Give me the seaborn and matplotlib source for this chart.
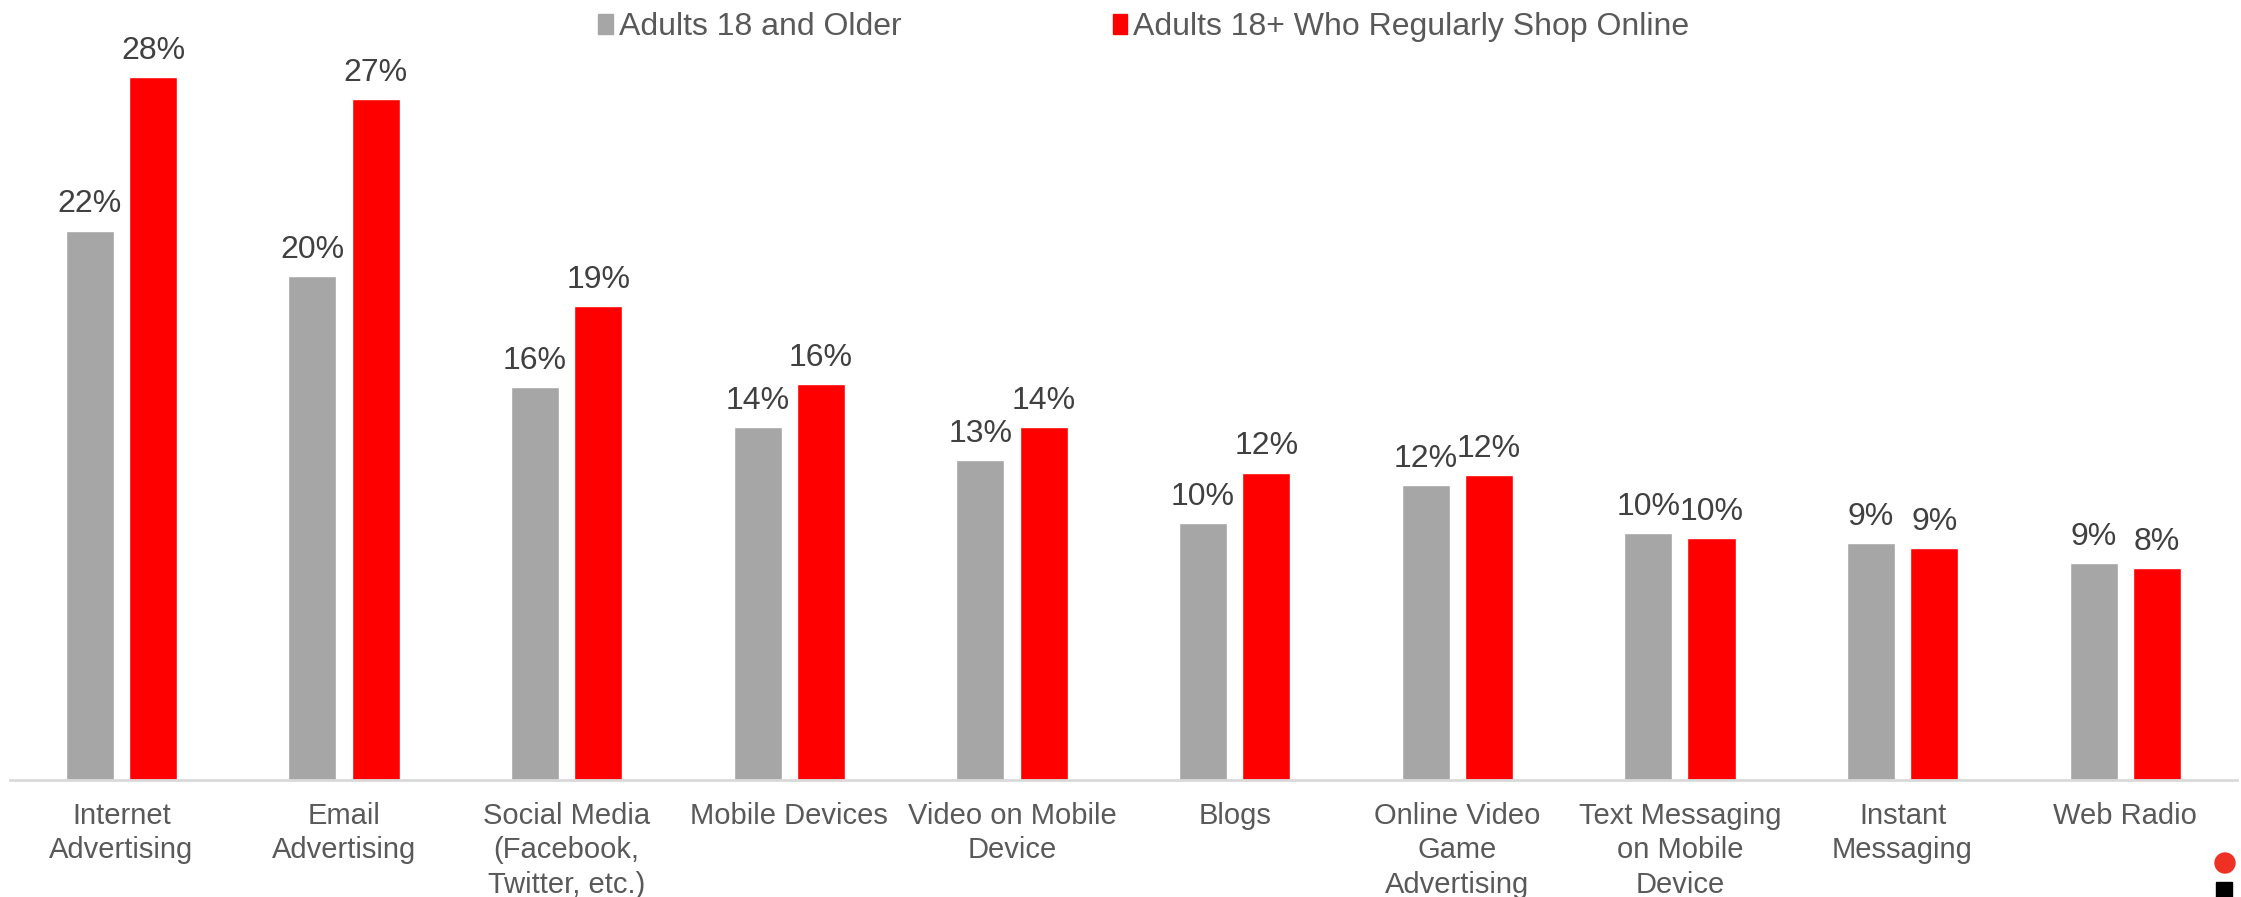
import matplotlib
matplotlib.use("Agg")
import matplotlib.pyplot as plt
import matplotlib.patches as mpatches
import seaborn as sns
import pandas as pd

# Share of respondents influenced by each ad channel
categories = [
    "Internet\nAdvertising",
    "Email\nAdvertising",
    "Social Media\n(Facebook,\nTwitter, etc.)",
    "Mobile Devices",
    "Video on Mobile\nDevice",
    "Blogs",
    "Online Video\nGame\nAdvertising",
    "Text Messaging\non Mobile\nDevice",
    "Instant\nMessaging",
    "Web Radio",
]
series_names = ["Adults 18 and Older", "Adults 18+ Who Regularly Shop Online"]
adults_all = [21.8, 20.0, 15.6, 14.0, 12.7, 10.2, 11.7, 9.8, 9.4, 8.6]
adults_shoppers = [27.9, 27.0, 18.8, 15.7, 14.0, 12.2, 12.1, 9.6, 9.2, 8.4]

GRAY = "#A6A6A6"
RED = "#FF0000"

df = pd.DataFrame({
    "category": categories * 2,
    "series": [series_names[0]] * len(categories) + [series_names[1]] * len(categories),
    "value": adults_all + adults_shoppers,
})

sns.set_theme(style="white")
plt.rcParams["font.family"] = ["Liberation Sans", "DejaVu Sans"]

W, H = 2241, 897
fig = plt.figure(figsize=(W / 100, H / 100), dpi=100)
ax = fig.add_axes([0.0045, 0.1304, 0.9935, 0.843])

sns.barplot(
    data=df, x="category", y="value", hue="series",
    order=categories, hue_order=series_names,
    palette=[GRAY, RED], width=0.568, gap=0.24,
    saturation=1, legend=False, ax=ax,
)

for cont in ax.containers:
    ax.bar_label(cont, fmt=lambda v: f"{v:.0f}%", padding=8,
                 fontsize=23, color="#404040")

ax.set_ylim(0, 30)
ax.set_xlim(-0.5, len(categories) - 0.5)
ax.set_xlabel("")
ax.set_ylabel("")
ax.set_yticks([])
ax.tick_params(axis="x", length=0, pad=16, labelsize=21, labelcolor="#595959")
for lbl in ax.get_xticklabels():
    lbl.set_verticalalignment("top")
    lbl.set_linespacing(1.28)

for side in ["left", "right", "top"]:
    ax.spines[side].set_visible(False)
ax.spines["bottom"].set_color("#D9D9D9")
ax.spines["bottom"].set_linewidth(2)

handles = [mpatches.Patch(color=GRAY), mpatches.Patch(color=RED)]
fig.legend(
    handles, series_names, loc="center", bbox_to_anchor=(0.5105, 1 - 27 / H),
    ncol=2, frameon=False, fontsize=23, labelcolor="#595959",
    handlelength=0.45, handleheight=0.6, handletextpad=0.2, columnspacing=6.6,
)

# small corner mark
fig.patches.append(mpatches.Ellipse((2225 / W, 1 - 863 / H), 20 / W, 20 / H,
                                    transform=fig.transFigure, color="#EE3124",
                                    figure=fig))
fig.patches.append(mpatches.Rectangle((2216 / W, 0), 16 / W, 15 / H,
                                      transform=fig.transFigure, color="black",
                                      figure=fig))

fig.savefig("out.png", dpi=100)
